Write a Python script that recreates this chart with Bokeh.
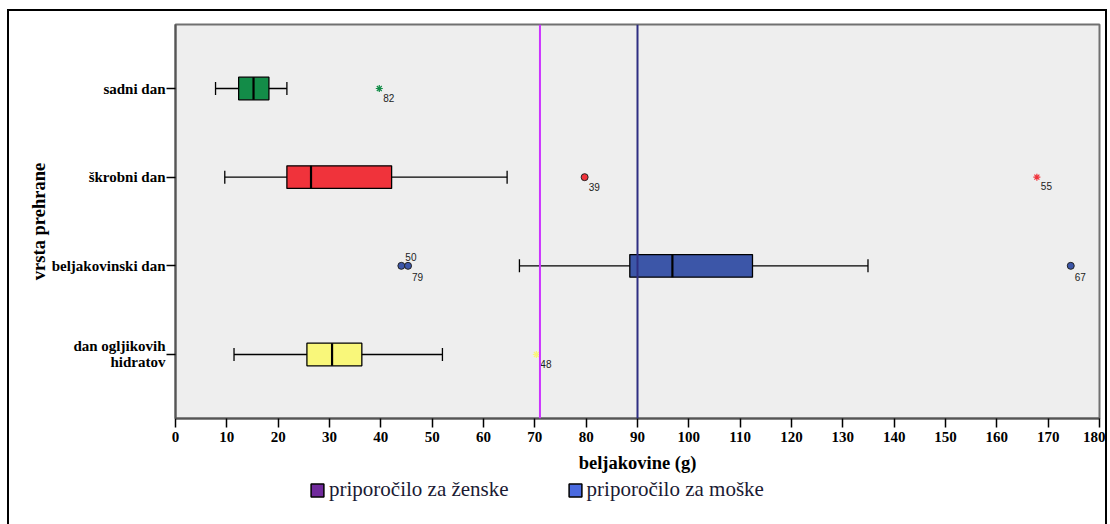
import numpy as np
from bokeh.plotting import figure
from bokeh.layouts import column
from bokeh.models import (Range1d, FactorRange, FixedTicker, Span, Legend,
                          LegendItem, ColumnDataSource, Whisker, TeeHead)
from bokeh.transform import dodge, factor_cmap
from bokeh.core.properties import value
from bokeh.embed import file_html
from bokeh.resources import INLINE

# ---------------- data ----------------
categories = ["sadni dan", "škrobni dan", "beljakovinski dan", "dan ogljikovih\nhidratov"]
whisker_low = [7.8, 9.6, 67.0, 11.4]
quart1 = [12.3, 21.7, 88.5, 25.6]
median = [15.2, 26.4, 96.8, 30.5]
quart3 = [18.2, 42.1, 112.4, 36.3]
whisker_high = [21.7, 64.6, 134.9, 52.0]

# outliers (circles)
out_cat = ["škrobni dan", "beljakovinski dan", "beljakovinski dan", "beljakovinski dan"]
out_val = [79.7, 44.0, 45.3, 174.4]
out_id = ["39", "50", "79", "67"]
# extreme values (stars)
ext_cat = ["sadni dan", "škrobni dan", "dan ogljikovih\nhidratov"]
ext_val = [39.7, 167.8, 70.3]
ext_id = ["82", "55", "48"]

rec_women = 71
rec_men = 90
x_ticks = list(range(0, 181, 10))
legend_labels = ["priporočilo za ženske", "priporočilo za moške"]

# ---------------- styles ----------------
box_colors = ["#138c48", "#f0333b", "#3c56a8", "#f9f77a"]
legend_colors = ["#702a9c", "#4a6ae0"]
out_dy = [10, -9, 11, 11]
ext_dy = [9, 9, 10]
SERIF = "Liberation Serif"
SANS = "Liberation Sans"

p = figure(width=1096, height=467,
           x_range=Range1d(0, 180),
           y_range=FactorRange(factors=list(reversed(categories)), range_padding=0.111),
           output_backend="svg", toolbar_location=None,
           min_border_left=166, min_border_right=6, min_border_top=13, min_border_bottom=60)
p.background_fill_color = "#eeeeee"
p.border_fill_color = "white"
p.outline_line_color = "#707070"
p.outline_line_width = 2
p.xgrid.visible = False
p.ygrid.visible = False

cmap = factor_cmap("cat", palette=box_colors, factors=categories)

box_src = ColumnDataSource(dict(cat=categories, lo=whisker_low, q1=quart1, med=median,
                                q3=quart3, hi=whisker_high))

wh = Whisker(source=box_src, base="cat", lower="lo", upper="hi", dimension="width",
             line_color="black", line_width=1.3, level="underlay",
             upper_head=TeeHead(size=13, line_color="black", line_width=1.3),
             lower_head=TeeHead(size=13, line_color="black", line_width=1.3))
p.add_layout(wh)

p.hbar(y="cat", left="q1", right="q3", height=0.255, source=box_src,
       fill_color=cmap, line_color="black", line_width=1.3)
p.segment(x0="med", x1="med",
          y0=dodge("cat", -0.1275, range=p.y_range), y1=dodge("cat", 0.1275, range=p.y_range),
          source=box_src, line_color="black", line_width=2.2)

out_src = ColumnDataSource(dict(cat=out_cat, val=out_val, lbl=out_id, dy=out_dy))
p.scatter(x="val", y="cat", source=out_src, marker="circle", size=7,
          fill_color=cmap, line_color="#222222", line_width=1)
p.text(x="val", y="cat", text="lbl", source=out_src, x_offset=4, y_offset="dy",
       text_font=value(SANS), text_font_size="10px", text_color="#222222",
       text_align="left", text_baseline="middle")

ext_src = ColumnDataSource(dict(cat=ext_cat, val=ext_val, lbl=ext_id, dy=ext_dy))
p.scatter(x="val", y="cat", source=ext_src, marker="asterisk", size=7,
          line_color=cmap, line_width=1.2)
p.text(x="val", y="cat", text="lbl", source=ext_src, x_offset=4, y_offset="dy",
       text_font=value(SANS), text_font_size="10px", text_color="#222222",
       text_align="left", text_baseline="middle")

p.add_layout(Span(location=rec_women, dimension="height", line_color="#cc33ff", line_width=2))
p.add_layout(Span(location=rec_men, dimension="height", line_color="#2e2e82", line_width=2))

# axes
p.xaxis.ticker = FixedTicker(ticks=x_ticks)
p.xaxis.axis_label = "beljakovine (g)"
p.yaxis.axis_label = "vrsta prehrane"
for ax in (p.xaxis[0], p.yaxis[0]):
    ax.axis_line_color = "#555555"
    ax.axis_line_width = 2
    ax.major_tick_line_color = "black"
    ax.major_tick_line_width = 1.5
    ax.major_tick_in = 0
    ax.major_tick_out = 9
    ax.minor_tick_line_color = None
    ax.major_label_text_font = SERIF
    ax.major_label_text_font_style = "bold"
    ax.major_label_text_color = "black"
    ax.axis_label_text_font = SERIF
    ax.axis_label_text_font_style = "bold"
    ax.axis_label_text_font_size = "18.5px"
    ax.axis_label_text_color = "black"
p.xaxis.major_label_text_font_size = "15px"
p.xaxis.major_label_standoff = 4
p.xaxis.axis_label_standoff = 8
p.yaxis.major_label_text_font_size = "15px"
p.yaxis.major_label_standoff = 1
p.yaxis.major_label_text_line_height = 1.0
p.yaxis.axis_label_standoff = 0

# legend panel (recommendation colours)
pl = figure(width=1096, height=46, x_range=Range1d(0, 1), y_range=Range1d(0, 1),
            output_backend="svg", toolbar_location=None,
            x_axis_location=None, y_axis_location=None, min_border=0)
pl.outline_line_color = None
pl.xgrid.visible = False
pl.ygrid.visible = False
pl.background_fill_color = "white"
pl.border_fill_color = "white"
leg_renderers = [pl.quad(left=[np.nan], right=[np.nan], top=[np.nan], bottom=[np.nan],
                         fill_color=c, line_color="black", line_width=1.5)
                 for c in legend_colors]
legend = Legend(items=[LegendItem(label=l, renderers=[r])
                       for l, r in zip(legend_labels, leg_renderers)],
                orientation="horizontal", location=(134, 22),
                glyph_width=16, glyph_height=16, label_standoff=4, spacing=58,
                padding=0, margin=0, border_line_color=None, background_fill_alpha=0,
                label_text_font=SERIF, label_text_font_size="21px",
                label_text_color="#1a1a33")
pl.add_layout(legend)

layout = column(p, pl, styles={"margin-left": "9px", "margin-top": "11px",
                               "outline": "2px solid black"})

open("out.html", "w").write(file_html(layout, INLINE))
